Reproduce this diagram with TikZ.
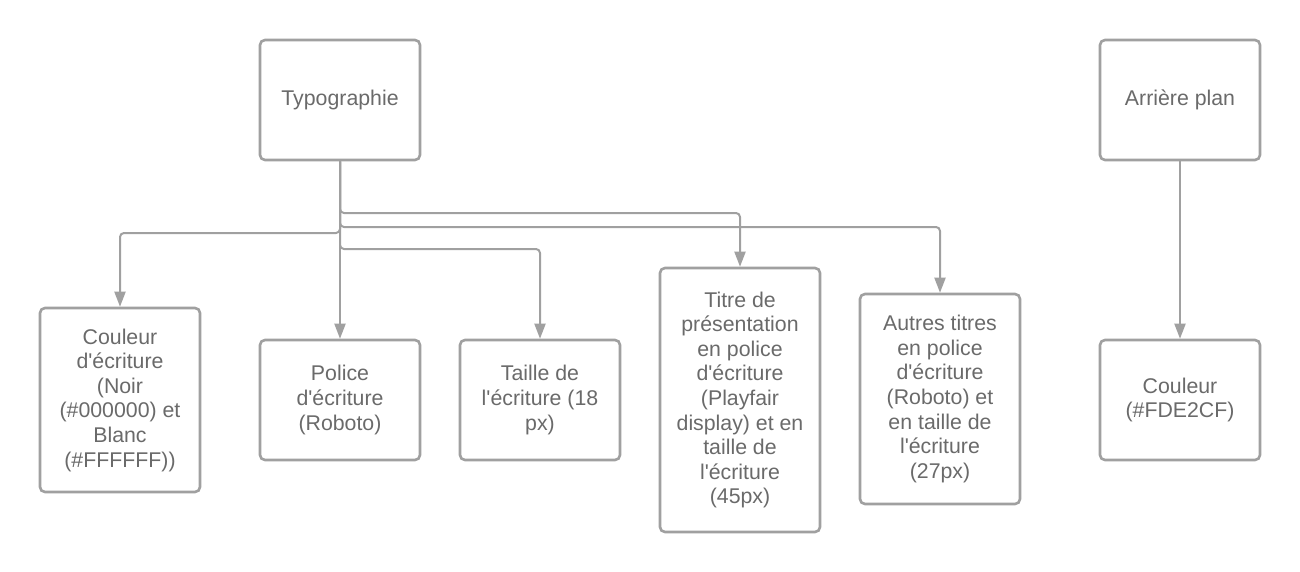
\documentclass[tikz,border=0pt]{standalone}
\usepackage{fontspec}
\setmainfont{Liberation Sans}[Ligatures=TeXOff]
\usetikzlibrary{arrows.meta}
\definecolor{linegray}{HTML}{A0A0A0}
\definecolor{txtgray}{HTML}{6A6A6A}
\begin{document}
\begin{tikzpicture}[x=1pt,y=-1pt,
  box/.style={draw=linegray,line width=2.6pt,rounded corners=5pt,minimum width=160pt,
    inner sep=0pt,align=center,text=txtgray,font=\fontsize{21.3}{24.6}\selectfont},
  conn/.style={draw=linegray,line width=2pt,rounded corners=4pt,-{Triangle[width=11pt,length=15pt]}}]
\useasboundingbox (0,0) rectangle (1300,572);
\fill[white] (0,0) rectangle (1300,572);
\node[box,minimum height=120pt] (typo) at (340,100) {Typographie};
\node[box,minimum height=120pt] (arr) at (1180,100) {Arrière plan};
\node[box,minimum height=184pt] (coul) at (120,400) {Couleur\\d'écriture\\(Noir\\(\#000000) et\\Blanc\\(\#FFFFFF))};
\node[box,minimum height=120pt] (pol) at (340,400) {Police\\d'écriture\\(Roboto)};
\node[box,minimum height=120pt] (tail) at (540,400) {Taille de\\l'écriture (18\\px)};
\node[box,minimum height=264pt] (titre) at (740,400) {Titre de\\présentation\\en police\\d'écriture\\(Playfair\\display) et en\\taille de\\l'écriture\\(45px)};
\node[box,minimum height=210pt] (autres) at (940,399) {Autres titres\\en police\\d'écriture\\(Roboto) et\\en taille de\\l'écriture\\(27px)};
\node[box,minimum height=120pt] (couleur) at (1180,400) {Couleur\\(\#FDE2CF)};
\draw[conn] (typo.south) -- (340,213) -| (titre.north);
\draw[conn] (typo.south) -- (340,227) -| (autres.north);
\draw[conn] (typo.south) -- (340,233) -| (coul.north);
\draw[conn] (typo.south) -- (340,249) -| (tail.north);
\draw[conn] (typo.south) -- (pol.north);
\draw[conn] (arr.south) -- (couleur.north);
\end{tikzpicture}
\end{document}
